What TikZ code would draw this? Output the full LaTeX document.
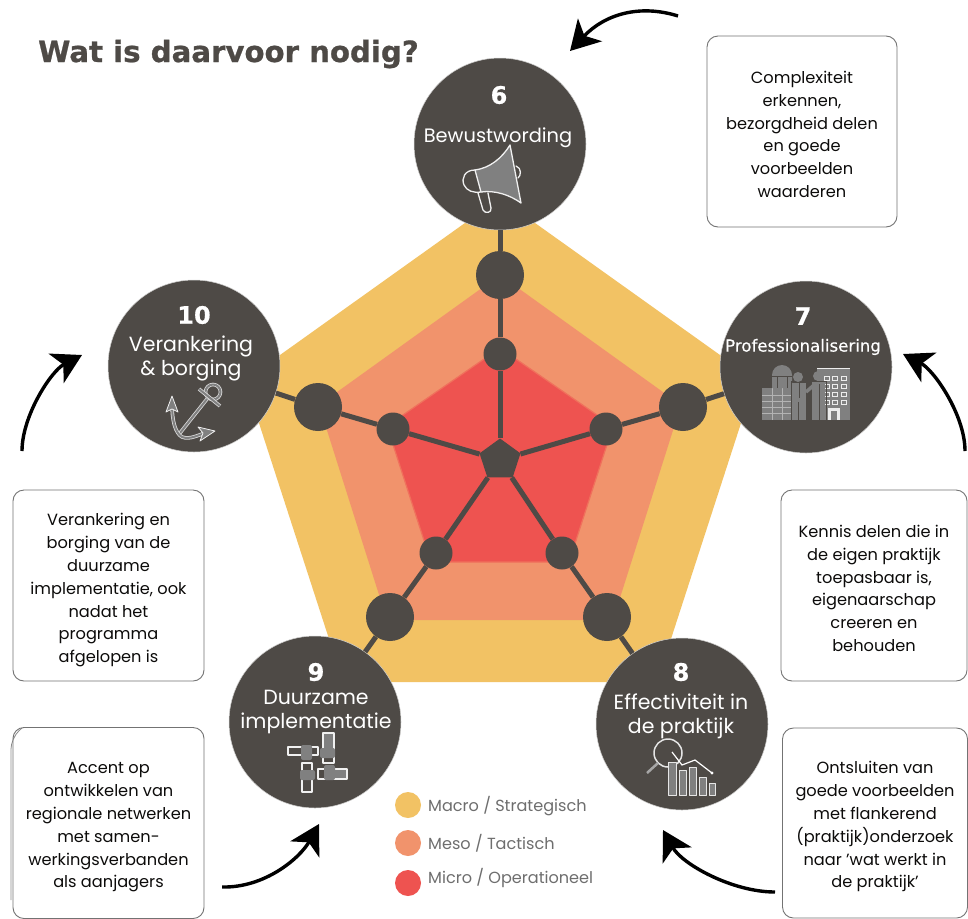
\documentclass[tikz,border=0pt]{standalone}
\usepackage{fontspec}
\usetikzlibrary{arrows.meta,shapes.geometric}
\setmainfont{Poppins}
\newfontfamily\headfont{DejaVu Sans}
\definecolor{dark}{HTML}{4E4A46}
\definecolor{macro}{HTML}{F2C264}
\definecolor{meso}{HTML}{F1936C}
\definecolor{micro}{HTML}{EE5350}
\definecolor{microedge}{HTML}{F0705C}
\definecolor{icon}{HTML}{808080}
\definecolor{legtext}{HTML}{6E6E6E}
\tikzset{
  x=1pt,y=-1pt,
  bigc/.style={circle,fill=dark,draw=white!75!dark,line width=0.5pt,minimum size=172pt,inner sep=0pt},
  outerdot/.style={circle,fill=dark,minimum size=48pt,inner sep=0pt},
  innerdot/.style={circle,fill=dark,minimum size=33pt,inner sep=0pt},
  hub/.style={regular polygon,regular polygon sides=5,fill=dark,minimum size=43pt,inner sep=0pt},
  spoke/.style={draw=dark,line width=5pt},
  num/.style={text=white,font=\headfont\bfseries\addfontfeature{FakeBold=0.6}\fontsize{24}{24}\selectfont,inner sep=0pt},
  circ/.style={text=white,font=\fontsize{20.5}{24}\selectfont,align=center,inner sep=0pt},
  infobox/.style={draw=black!55,line width=0.9pt,rounded corners=11pt,align=center,inner sep=0pt,text=black!85!dark,font=\fontsize{16.2}{22.8}\selectfont},
  flow/.style={draw=black,line width=3.4pt,-{Stealth[length=29pt,width=33pt,inset=8pt]}},
  legdot/.style={circle,minimum size=26pt,inner sep=0pt},
  legtxt/.style={text=legtext,font=\fontsize{16.1}{18}\selectfont,anchor=west,inner sep=0pt},
  ic/.style={draw=white!88!icon,fill=icon,line width=1.3pt,line join=round},
  icw/.style={draw=white!88!icon,line width=1.3pt,line join=round,line cap=round},
}
\begin{document}
\begin{tikzpicture}
\useasboundingbox (0,0) rectangle (968,918);
\fill[white] (0,0) rectangle (968,918);
% pentagons
\fill[macro] (500,198) -- (755,380) -- (657,682) -- (343,682) -- (245,380) -- cycle;
\fill[meso] (500,275) -- (681,405) -- (613,620) -- (387,620) -- (319,405) -- cycle;
\fill[micro,draw=microedge,line width=1.2pt] (500,348) -- (613,426) -- (569,562) -- (431,562) -- (387,426) -- cycle;
% nodes
\node[hub] (hub) at (500,460) {};
\node[bigc] (c6) at (500,144) {};
\node[bigc] (c7) at (806,367) {};
\node[bigc] (c8) at (682,724) {};
\node[bigc] (c9) at (315,722) {};
\node[bigc] (c10) at (194,366) {};
\node[outerdot] (o6) at (500,275) {};
\node[outerdot] (o7) at (683,407) {};
\node[outerdot] (o8) at (607,617) {};
\node[outerdot] (o9) at (390,617) {};
\node[outerdot] (o10) at (318,407) {};
\node[innerdot] (i6) at (500,354) {};
\node[innerdot] (i7) at (606,429) {};
\node[innerdot] (i8) at (562,553) {};
\node[innerdot] (i9) at (436,553) {};
\node[innerdot] (i10) at (393,429) {};
\draw[spoke] (hub) -- (i6) -- (o6) -- (c6);
\draw[spoke] (hub) -- (i7) -- (o7) -- (c7);
\draw[spoke] (hub) -- (i8) -- (o8) -- (c8);
\draw[spoke] (hub) -- (i9) -- (o9) -- (c9);
\draw[spoke] (hub) -- (i10) -- (o10) -- (c10);
% title
\node[anchor=base west,inner sep=0pt,text=dark,font=\headfont\bfseries\addfontfeature{FakeBold=0.8}\fontsize{29.2}{32}\selectfont] (title) at (38,62) {Wat is daarvoor nodig?};
% circle labels
\node[num] (n6) at (499,95) {6};
\node[circ,font=\fontsize{19.4}{24}\selectfont] (t6) at (498,138) {Bewustwording};
\node[num] (n7) at (803,316) {7};
\node[circ,font=\headfont\addfontfeature{FakeBold=0.4}\fontsize{16.6}{18}\selectfont] (t7) at (803,347) {Professionalisering};
\node[num] (n8) at (681,672) {8};
\node[circ] (t8) at (681,716) {Effectiviteit in\\de praktijk};
\node[num] (n9) at (316,672) {9};
\node[circ] (t9) at (316,712) {Duurzame\\implementatie};
\node[num] (n10) at (194,315) {10};
\node[circ] (t10) at (191,358) {Verankering\\\& borging};
% info boxes
\node[infobox,minimum width=190pt,minimum height=191pt] (b6) at (802,131.5) {\rule{0pt}{18pt}Complexiteit\\erkennen,\\bezorgdheid delen\\en goede\\voorbeelden\\waarderen};
\node[infobox,minimum width=186pt,minimum height=191pt] (b7) at (874,585.5) {\rule{0pt}{18pt}Kennis delen die in\\de eigen praktijk\\toepasbaar is,\\eigenaarschap\\creeren en\\behouden};
\node[infobox,minimum width=185pt,minimum height=190pt] (b8) at (875,823) {\rule{0pt}{20pt}Ontsluiten van\\goede voorbeelden\\met flankerend\\(praktijk)onderzoek\\naar 'wat werkt in\\de praktijk'};
\node[infobox,minimum width=191pt,minimum height=191pt] (b10) at (108.5,585.5) {\rule{0pt}{22pt}Verankering en\\borging van de\\duurzame\\implementatie, ook\\nadat het\\programma\\afgelopen is};
\draw[black!45,line width=0.8pt,rounded corners=11pt] (11,900) -- (11,738) -- (22,728);
\node[infobox,minimum width=191pt,minimum height=191pt] (b9) at (108.5,823) {\rule{0pt}{20pt}Accent op\\ontwikkelen van\\regionale netwerken\\met samen-\\werkingsverbanden\\als aanjagers};
% flow arrows
\coordinate (a6s) at (678,16); \coordinate (a6e) at (570,51);
\coordinate (a7s) at (965,451); \coordinate (a7e) at (903,354);
\coordinate (a8s) at (775,892); \coordinate (a8e) at (663,830);
\coordinate (a9s) at (222,887); \coordinate (a9e) at (319,824);
\coordinate (a10s) at (22,451); \coordinate (a10e) at (82,355);
\draw[flow] (a6s) .. controls (640,4) and (605,14) .. (a6e);
\draw[flow] (a7s) .. controls (965,415) and (934,370) .. (a7e);
\draw[flow] (a8s) .. controls (732,892) and (682,864) .. (a8e);
\draw[flow] (a9s) .. controls (265,888) and (300,858) .. (a9e);
\draw[flow] (a10s) .. controls (22,416) and (51,371) .. (a10e);
% legend
\node[legdot,fill=macro] (l1) at (408,805) {};
\node[legdot,fill=meso] (l2) at (408,843) {};
\node[legdot,fill=micro] (l3) at (408,883) {};
\node[legtxt] (lt1) at (428,806) {Macro / Strategisch};
\node[legtxt] (lt2) at (428,843) {Meso / Tactisch};
\node[legtxt] (lt3) at (428,878) {Micro / Operationeel};
% icon 6: megaphone
\draw[ic] (475,170) .. controls (490,168) and (502,158) .. (510,145) -- (521,203) .. controls (510,195) and (495,190) .. (481,192) -- cycle;
\draw[icw] (475,170) .. controls (465,170) and (461,178) .. (464,185) .. controls (467,191) and (473,193) .. (481,192);
\draw[icw] (478,193) -- (483,210) .. controls (485,214) and (492,213) .. (491,208) -- (488,193);
\draw[icw] (516,166) .. controls (522,168) and (521,176) .. (518,178);
% icon 7: buildings and people
\fill[icon] (762,388) rectangle (792,420);
\draw[white!40!icon,line width=0.7pt] (762,395) -- (792,395) (762,401) -- (792,401) (762,407) -- (792,407) (762,413) -- (792,413) (772,388) -- (772,420) (782,388) -- (782,420);
\fill[icon] (772,388) -- (772,375) arc[start angle=180,end angle=0,x radius=10pt,y radius=10pt] -- (792,388) -- cycle;
\draw[dark,line width=0.8pt] (772,376) -- (792,376) (777,376) -- (777,388) (787,376) -- (787,388);
\fill[icon] (817,368) rectangle (850,420);
\draw[white!85!icon,line width=1.2pt] (817,368.5) -- (850,368.5);
\foreach \yy in {376,384,392,400} \foreach \xx in {824,832,841} \draw[white!85!icon,line width=0.7pt] (\xx,\yy) rectangle +(5,4);
\fill[white!85!icon] (828,408) rectangle (840,420);
\fill[icon] (831,411) rectangle (837,420);
\draw[dark,line width=1pt] (791,381) rectangle (807,421);
\draw[dark,line width=1pt] (811,381) rectangle (826,421);
\fill[icon] (798,377) circle[radius=5pt];
\fill[icon] (818,376) circle[radius=5pt];
\fill[icon] (792,383) rectangle (806,420);
\fill[icon] (812,382) rectangle (825,420);
\draw[dark,line width=1pt] (799,383) -- (799,398) (819,384) -- (819,420) (798,420) -- (798,402);
\draw[icon,line width=3.5pt] (806,392) -- (814,385);
% icon 8: magnifier and chart
\draw[white!80!icon,line width=1.5pt] (668,753) circle[radius=14pt];
\draw[icon!70!white,line width=2.5pt] (658,763) -- (647,773);
\foreach \xa/\xb/\yt in {668/676/762,679/686/770,689/696/767,699/706/777,709/715/783}
  \draw[ic,draw=white!80!icon,line width=1pt] (\xa,\yt) rectangle (\xb,795);
\draw[white,line width=1.2pt] (672,752) -- (682,765) -- (695,760) -- (712,773);
\fill[white] (712,773) circle[radius=1.6pt];
% icon 9: pipes
\draw[icw] (288,747) rectangle (318,755);
\draw[icw] (323,733) rectangle (334,763);
\draw[icw] (302,763) rectangle (312,792);
\draw[icw] (318,769) rectangle (347,779);
\fill[icon,rounded corners=2pt] (301,745) rectangle (312,760);
\fill[icon,rounded corners=2pt] (320,748) rectangle (335,758);
\fill[icon,rounded corners=2pt] (300,770) rectangle (315,780);
\fill[icon,rounded corners=2pt] (324,765) rectangle (335,780);
\fill[icon] (324,734) rectangle (333,748);
\fill[icon] (331,770) rectangle (346,778);
% icon 10: anchor
\tikzset{anch/.style={draw=white!70!icon,line width=0.8pt,double=icon,double distance=2pt,line join=round}}
\draw[anch] (213,392) circle[radius=7.5pt];
\draw[anch] (199,389) -- (220,406);
\draw[anch] (207,399) -- (180,433);
\draw[anch] (172,404) .. controls (172,420) and (175,433) .. (182,437) .. controls (190,440) and (198,435) .. (208,432);
\draw[ic,line width=0.8pt] (172,396) -- (166,412) -- (172,409) -- (178,412) -- cycle;
\draw[ic,line width=0.8pt] (215,431) -- (198,427) -- (203,433) -- (200,441) -- cycle;
\end{tikzpicture}
\end{document}
